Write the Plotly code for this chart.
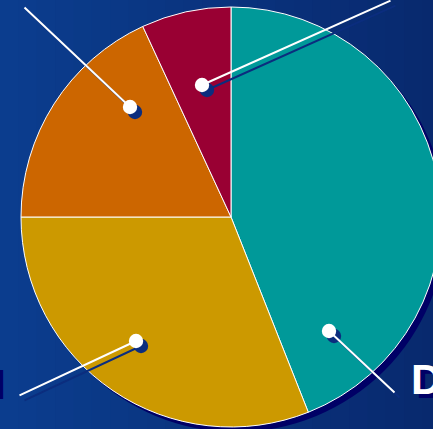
import plotly.graph_objects as go

# ---- data ----
categories = ["D", "I", "B", "A"]
values = [44.0, 31.0, 18.1, 6.9]
slice_colors = ["#009999", "#CC9900", "#CC6600", "#990033"]

# canvas is slightly wider than the 433px window; the page hides the overflow
W, H = 441, 429

# pie geometry (pixels)
cx, cy, R = 231, 217, 210

def px(x):
    return x / W

def py(y):
    return 1 - y / H

fig = go.Figure()

fig.add_trace(go.Pie(
    labels=categories,
    values=values,
    sort=False,
    direction="clockwise",
    rotation=0,
    marker=dict(colors=slice_colors, line=dict(color="white", width=1)),
    textinfo="none",
    hoverinfo="label+percent",
    showlegend=False,
    domain=dict(x=[px(cx - R), min(1, px(cx + R))], y=[py(cy + R), py(cy - R)]),
))

shapes = []
# background gradient stripes
c0 = (11, 61, 142)
c1 = (8, 41, 110)
n = 24
for i in range(n):
    t = i / (n - 1)
    col = "rgb(%d,%d,%d)" % tuple(round(a + (b - a) * t) for a, b in zip(c0, c1))
    shapes.append(dict(type="rect", xref="paper", yref="paper",
                       x0=i / n, x1=(i + 1) / n + 0.002, y0=0, y1=1,
                       fillcolor=col, line=dict(width=0), layer="below"))
# pie drop shadow
sh = 5
shapes.append(dict(type="circle", xref="paper", yref="paper",
                   x0=px(cx - R + sh), x1=px(cx + R + sh),
                   y0=py(cy + R + sh), y1=py(cy - R + sh),
                   fillcolor="#000066", line=dict(width=0), layer="below"))

# callouts: dot position (px) and tail offset (px)
callouts = [
    (329, 331, 67, 63),
    (136, 341, -118, 55),
    (130, 107, -107, -101),
    (202, 85, 190, -85),
]
annotations = []
for (x, y, ax, ay) in callouts:
    annotations.append(dict(x=px(x), y=py(y), xref="paper", yref="paper",
                            ax=ax, ay=ay, text="", showarrow=True,
                            arrowhead=6, arrowsize=1.8, arrowwidth=2,
                            arrowcolor="#0b2d7e", xshift=5, yshift=-5,
                            standoff=0, startstandoff=0))
for (x, y, ax, ay) in callouts:
    annotations.append(dict(x=px(x), y=py(y), xref="paper", yref="paper",
                            ax=ax, ay=ay, text="", showarrow=True,
                            arrowhead=6, arrowsize=1.8, arrowwidth=2,
                            arrowcolor="white", standoff=0, startstandoff=0))

fam = "Liberation Sans, Arial, sans-serif"
white_font = dict(family=fam, size=43, color="white", weight="bold")
shadow_font = dict(family=fam, size=43, color="#000066", weight="bold")

# labels: (text, anchor x, anchor y, xanchor)
labels = [
    (categories[0], 409, 379, "left"),
    (categories[1], 3, 380, "right"),
]
for (t, x, y, xa) in labels:
    annotations.append(dict(x=px(x), y=py(y), xref="paper", yref="paper",
                            text=t, showarrow=False, xanchor=xa, yanchor="middle",
                            xshift=5, yshift=-4, font=shadow_font))
for (t, x, y, xa) in labels:
    annotations.append(dict(x=px(x), y=py(y), xref="paper", yref="paper",
                            text=t, showarrow=False, xanchor=xa, yanchor="middle",
                            font=white_font))

fig.update_layout(
    width=W, height=H,
    margin=dict(l=0, r=0, t=0, b=0),
    paper_bgcolor="#0a3480",
    plot_bgcolor="rgba(0,0,0,0)",
    shapes=shapes,
    annotations=annotations,
)

fig.write_html("out.html",
               config={"displayModeBar": False},
               post_script="document.body.style.margin='0';document.body.style.overflow='hidden';")
